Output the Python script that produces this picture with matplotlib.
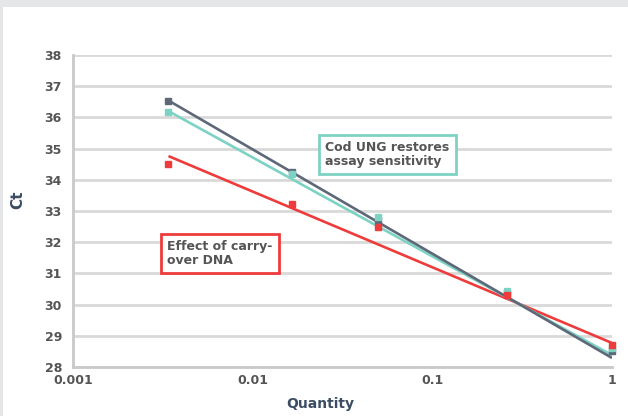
import matplotlib.pyplot as plt
import matplotlib.patches as mpatches

# data
quantity = [0.0034, 0.0165, 0.05, 0.26, 1.0]
ct_ref = [36.54, 34.24, 32.71, 30.38, 28.52]      # gray series
ct_ung = [36.18, 34.18, 32.82, 30.42, 28.60]      # teal series (Cod UNG)
ct_carry = [34.52, 33.21, 32.50, 30.30, 28.70]    # red series (carry-over)

# trendline end values as drawn in the reference (at first and last quantity)
trend_ref = [36.54, 28.29]
trend_ung = [36.20, 28.38]
trend_carry = [34.76, 28.77]

y_ticks = list(range(28, 39))
x_ticks = [0.001, 0.01, 0.1, 1]
x_tick_labels = ['0.001', '0.01', '0.1', '1']

GRAY = '#5e6878'
TEAL = '#7dd3c3'
RED = '#ee3b3b'
TXT = '#555555'
LABEL = '#3c4c62'
GRID = '#d9d9d9'

fig = plt.figure(figsize=(6.28, 4.16), dpi=100, facecolor='#e5e6e8')
fig.patches.append(mpatches.Rectangle((3 / 628, 0), 1, 1 - 7 / 416,
                                      transform=fig.transFigure,
                                      facecolor='white', edgecolor='none', zorder=-5))

ax = fig.add_axes([73 / 628, 1 - 367 / 416, (612 - 73) / 628, (367 - 55) / 416])
ax.set_facecolor('none')
ax.set_xscale('log')
ax.set_xlim(0.001, 1)
ax.set_ylim(28, 38)

for yv in y_ticks[1:]:
    ax.axhline(yv, color=GRID, lw=2, zorder=1)

for s in ['top', 'right']:
    ax.spines[s].set_visible(False)
for s in ['left', 'bottom']:
    ax.spines[s].set_color('#c9c9c9')
    ax.spines[s].set_linewidth(2)

ax.set_yticks(y_ticks)
ax.set_xticks(x_ticks)
ax.set_xticklabels(x_tick_labels)
ax.xaxis.set_minor_locator(plt.NullLocator())
ax.tick_params(length=0, labelsize=9, labelcolor=TXT)
ax.tick_params(axis='y', pad=8)
ax.tick_params(axis='x', pad=5)
for t in ax.get_xticklabels() + ax.get_yticklabels():
    t.set_fontweight('bold')

trend_x = [quantity[0], quantity[-1]]
for ys, c in [(trend_carry, RED), (trend_ung, TEAL), (trend_ref, GRAY)]:
    ax.plot(trend_x, ys, color=c, lw=1.9, zorder=3, solid_capstyle='butt')
for y, c in [(ct_ref, GRAY), (ct_ung, TEAL), (ct_carry, RED)]:
    ax.plot(quantity, y, 's', color=c, ms=4.5, zorder=4, clip_on=False)

ax.text(0.0253, 34.81, 'Cod UNG restores\nassay sensitivity',
        fontsize=9, fontweight='bold', color=TXT,
        va='center', ha='left', linespacing=1.1, zorder=5,
        bbox=dict(boxstyle='square,pad=0.5', fc='white', ec=TEAL, lw=2))
ax.text(0.00334, 31.64, 'Effect of carry-\nover DNA',
        fontsize=9, fontweight='bold', color=TXT,
        va='center', ha='left', linespacing=1.1, zorder=5,
        bbox=dict(boxstyle='square,pad=0.5', fc='white', ec=RED, lw=2))

fig.text(18 / 628, 1 - 200 / 416, 'Ct', rotation=90, fontsize=11, fontweight='bold',
         color=LABEL, ha='center', va='center')
fig.text(320 / 628, 1 - 404 / 416, 'Quantity', fontsize=10, fontweight='bold',
         color=LABEL, ha='center', va='center')

fig.savefig('out.png', dpi=100, facecolor=fig.get_facecolor())
